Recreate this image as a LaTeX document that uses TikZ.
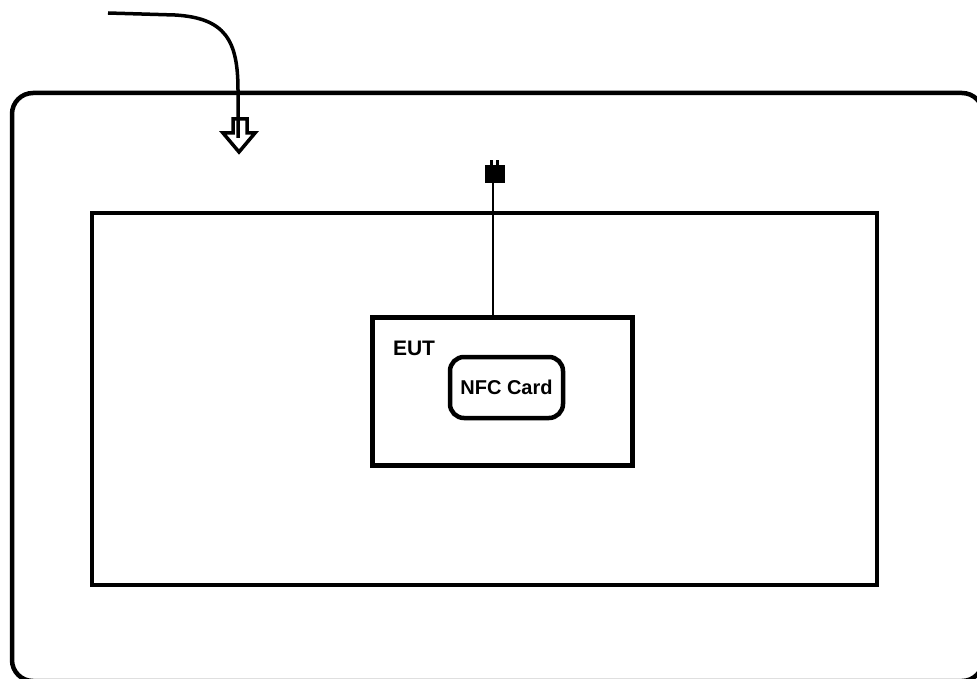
\documentclass[tikz,border=0pt]{standalone}
\usepackage{fontspec}
\newfontfamily\labelfont{Liberation Sans}
\begin{document}
\begin{tikzpicture}[x=1pt,y=-1pt]
        \useasboundingbox (0,0) rectangle (977,679);
        \tikzset{box/.style={draw,line width=4.5pt,inner sep=0pt},
                 tag/.style={font=\labelfont\bfseries}}
        \node[box,rounded corners=21pt,minimum width=971pt,minimum height=588pt] (room) at (497.5,387) {};
        \node[box,line width=4pt,minimum width=785pt,minimum height=372pt] (table) at (484.5,399) {};
        \node[box,line width=5pt,minimum width=260pt,minimum height=148pt] (eut) at (502,391) {};
        \node[tag,font=\labelfont\bfseries\fontsize{21}{21}\selectfont] (eutname) at (414,348.5) {EUT};
        \node[box,rounded corners=14pt,minimum width=113pt,minimum height=61pt,tag,font=\labelfont\bfseries\fontsize{20}{20}\selectfont] (nfc) at (506.5,387.5) {NFC Card};
        \node[draw,fill,inner sep=0pt,minimum width=19pt,minimum height=17pt] (ant) at (494.5,173.5) {};
        \coordinate (feed) at (108,13);
        \coordinate (drop) at (238,138);
        % antenna pins and cable to the EUT
        \draw[line width=2.2pt] ([xshift=-3pt]ant.north) -- ++(0,-5);
        \draw[line width=2.2pt] ([xshift=3pt]ant.north) -- ++(0,-5);
        \draw[line width=1.5pt] ([xshift=-1.5pt]ant.south) -- ([xshift=-1.5pt]ant.south |- eut.north);
        % incoming feed with hollow arrow
        \draw[line width=3.5pt,fill=white,line join=miter] (233,119) -- (233,133) -- (223,133) -- (239,152) -- (255,133) -- (247,133) -- (247,119) -- cycle;
        \draw[line width=3.5pt] (feed) -- (175,15) .. controls (225,18) and (238,40) .. (238,90) -- (drop);
    \end{tikzpicture}
\end{document}
